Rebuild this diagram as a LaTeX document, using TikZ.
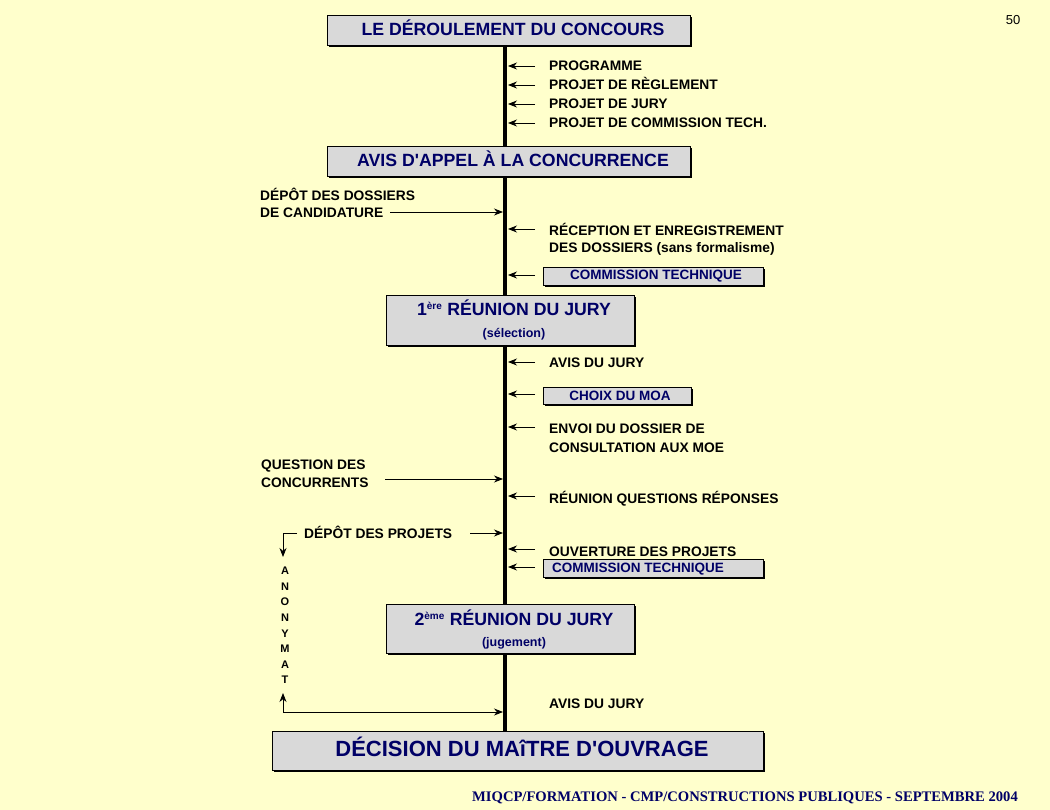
\documentclass[tikz,border=0pt]{standalone}
\usepackage{fontspec}
\setmainfont{Liberation Sans}
\newfontfamily\serifft{Liberation Serif}
\usetikzlibrary{arrows.meta}
\definecolor{bgc}{HTML}{FFFFCC}
\definecolor{navyc}{HTML}{000066}
\definecolor{boxc}{HTML}{D9D9D9}
\begin{document}
\begin{tikzpicture}[x=1pt,y=-1pt,
  lbl/.style={anchor=base west,inner sep=0pt,font=\bfseries\fontsize{13.8}{15}\selectfont,text=black},
  ttl/.style={font=\bfseries\fontsize{17.7}{19}\selectfont,text=navyc},
  sub/.style={font=\bfseries\fontsize{13.5}{15}\selectfont,text=navyc},
  arr/.style={-{Stealth[length=9pt,width=7pt]},line width=0.8pt},
  boxbg/.style={fill=boxc,draw=black,line width=0.6pt},
  shad/.style={fill=black}]
\fill[bgc] (0,0) rectangle (1050,810);
\useasboundingbox (0,0) rectangle (1050,810);
% main line
\coordinate (ltop) at (505,45);
\coordinate (lbot) at (505,732);
\draw[line width=3.5pt] (ltop) -- (lbot);
% boxes with shadow
\newcommand{\mybox}[5]{%
  \fill[shad] (#1+2,#2+2) rectangle (#3+2,#4+2);
  \draw[boxbg] (#1,#2) rectangle (#3,#4);}
\mybox{327}{15}{690}{45}{}
\node[ttl] (b1) at (513,28) {LE DÉROULEMENT DU CONCOURS};
\mybox{327}{146}{690}{176}{}
\node[ttl] (b2) at (513,159) {AVIS D\textquotesingle APPEL À LA CONCURRENCE};
\mybox{386}{295}{634}{345}{}
\node[ttl] (b3) at (514,308) {1\textsuperscript{\fontsize{10}{10}\selectfont ère} RÉUNION DU JURY};
\node[sub,font=\bfseries\fontsize{12.5}{14}\selectfont] (b3s) at (514,334) {(sélection)};
\mybox{386}{604}{634}{653}{}
\node[ttl] (b4) at (514,618) {2\textsuperscript{\fontsize{10}{10}\selectfont ème} RÉUNION DU JURY};
\node[sub,font=\bfseries\fontsize{12.5}{14}\selectfont] (b4s) at (514,643) {(jugement)};
\mybox{272}{731}{763}{770}{}
\node[ttl,font=\bfseries\fontsize{22}{24}\selectfont] (b5) at (522,747) {DÉCISION DU MAîTRE D\textquotesingle OUVRAGE};
\mybox{543}{267}{763}{285}{}
\node[sub] (c1) at (656,276) {COMMISSION TECHNIQUE};
\mybox{543}{387}{691}{404}{}
\node[sub] (c2) at (620,396) {CHOIX DU MOA};
\mybox{543}{559}{763}{577}{}
\node[sub] (c3) at (638,569) {COMMISSION TECHNIQUE};
% right labels
\foreach \y/\t/\n in {71/PROGRAMME/r1,90/PROJET DE RÈGLEMENT/r2,109/PROJET DE JURY/r3,128/PROJET DE COMMISSION TECH./r4,
  236/RÉCEPTION ET ENREGISTREMENT/r5,253/DES DOSSIERS (sans formalisme)/r6,367/AVIS DU JURY/r7,
  433/ENVOI DU DOSSIER DE/r8,452/CONSULTATION AUX MOE/r9,503/RÉUNION QUESTIONS RÉPONSES/r10,
  556/OUVERTURE DES PROJETS/r11,708/AVIS DU JURY/r12}
  \node[lbl] (\n) at (549,\y) {\t};
% right arrows
\foreach \y in {66,85,104,123,229,275,362,394,427,496,549,567}{
  \coordinate (s\y) at (535,\y); \coordinate (e\y) at (508,\y);
  \draw[arr] (s\y) -- (e\y);}
% left labels
\node[lbl] (l1) at (260,201) {DÉPÔT DES DOSSIERS};
\node[lbl] (l2) at (260,218) {DE CANDIDATURE};
\node[lbl] (l3) at (261,469) {QUESTION DES};
\node[lbl] (l4) at (261,487) {CONCURRENTS};
\node[lbl] (l5) at (304,538) {DÉPÔT DES PROJETS};
\coordinate (a1s) at (390,212); \coordinate (a1e) at (503,212);
\draw[arr] (a1s) -- (a1e);
\coordinate (a2s) at (385,479); \coordinate (a2e) at (503,479);
\draw[arr] (a2s) -- (a2e);
\coordinate (a3s) at (470,533); \coordinate (a3e) at (503,533);
\draw[arr] (a3s) -- (a3e);
\coordinate (d1) at (297,533); \coordinate (d2) at (283,533); \coordinate (d3) at (283,557);
\draw[arr] (d1) -- (d2) -- (d3);
\coordinate (u1) at (503,712); \coordinate (u2) at (283,712); \coordinate (u3) at (283,693);
\draw[arr] (u2) -- (u3);
\draw[arr] (u2) -- (u1);
% ANONYMAT
\foreach \c [count=\i] in {A,N,O,N,Y,M,A,T}
  \node[font=\bfseries\fontsize{11}{12}\selectfont] (an\i) at (285,571+15.6*\i-15.6) {\c};
\node[font=\fontsize{13}{15}\selectfont] (pg) at (1013,20) {50};
\node[font=\serifft\bfseries\fontsize{14.6}{16}\selectfont,text=navyc] (ft) at (745,798) {MIQCP/FORMATION - CMP/CONSTRUCTIONS PUBLIQUES - SEPTEMBRE 2004};
\end{tikzpicture}
\end{document}
